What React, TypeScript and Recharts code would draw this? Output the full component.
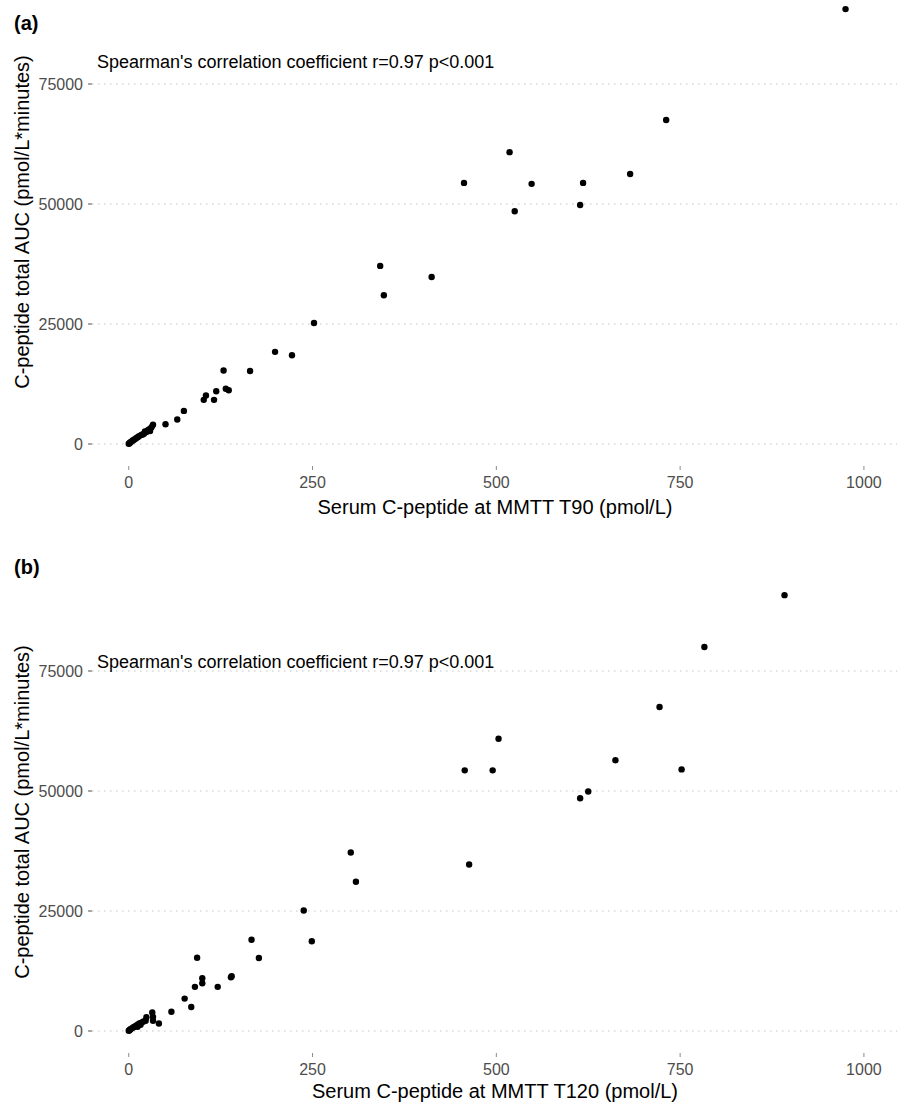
import React from "react";
import { ScatterChart, Scatter, XAxis, YAxis, CartesianGrid } from "recharts";

// Panel (a): serum C-peptide at MMTT T90 vs total AUC
const t90Values = [
  975, 731, 518, 548, 525, 618, 614, 682, 456, 342, 347, 412, 252, 199, 222, 165,
  129, 132, 136, 119, 105, 102, 116, 75, 66, 50, 33, 28,
  31, 26, 24, 21, 19, 17, 14, 12, 10, 8, 6, 5, 3, 2, 1, 0, 29, 22,
];
const aucA = [
  90600, 67500, 60800, 54200, 48500, 54400, 49800, 56250, 54400, 37100, 31000, 34800, 25200, 19200, 18500, 15200,
  15300, 11500, 11200, 11000, 10100, 9200, 9200, 6900, 5100, 4100, 4000, 3100,
  3500, 2900, 2500, 2200, 2000, 1900, 1600, 1400, 1200, 1000, 800, 700, 450, 300, 150, 50, 2700, 2600,
];

// Panel (b): serum C-peptide at MMTT T120 vs total AUC
const t120Values = [
  892, 783, 722, 503, 457, 495, 662, 752, 625, 614, 463, 302, 309, 238, 249, 167,
  177, 93, 100, 100, 90, 121, 139, 140, 76, 85, 58, 32, 33, 24, 23, 33, 41,
  20, 18, 15, 13, 11, 9, 7, 5, 3, 2, 1, 0, 16, 12,
];
const aucB = [
  90800, 80000, 67500, 60900, 54300, 54300, 56400, 54500, 49900, 48500, 34700, 37200, 31100, 25100, 18700, 19000,
  15200, 15250, 11000, 9950, 9200, 9200, 11200, 11400, 6750, 5000, 4000, 3850, 2950, 2850, 2150, 2150, 1550,
  2000, 1800, 1600, 1400, 1200, 1000, 850, 650, 450, 300, 150, 50, 1300, 900,
];

const xTicks = [0, 250, 500, 750, 1000];
const yTicks = [0, 25000, 50000, 75000];
const annotationText = "Spearman's correlation coefficient r=0.97 p<0.001";
const yTitle = "C-peptide total AUC (pmol/L*minutes)";
const xTitleA = "Serum C-peptide at MMTT T90 (pmol/L)";
const xTitleB = "Serum C-peptide at MMTT T120 (pmol/L)";

const FONT = "'Liberation Sans', Arial, Helvetica, sans-serif";

const zip = (xs: number[], ys: number[]) => xs.map((x, i) => ({ x, y: ys[i] }));
const dataA = zip(t90Values, aucA);
const dataB = zip(t120Values, aucB);

const Dot = (props: any) => {
  const { cx, cy } = props;
  if (cx == null || cy == null) return null;
  return <circle cx={cx} cy={cy} r={3.2} fill="#000" />;
};

const gridRows = (props: any) => {
  const axis = props && props.yAxis;
  const scale = axis && axis.scale;
  if (typeof scale === "function") {
    return yTicks.map((t) => scale(t));
  }
  if (scale && typeof scale.map === "function") {
    return yTicks.map((t) => scale.map(t));
  }
  return [];
};

type PanelProps = {
  data: { x: number; y: number }[];
  height: number;
  marginTop: number;
  yDomain: [number, number];
};

const Panel = ({ data, height, marginTop, yDomain }: PanelProps) => (
  <ScatterChart
    width={899}
    height={height}
    margin={{ top: marginTop, right: 2, bottom: 0, left: 0 }}
    style={{ fontFamily: FONT }}
  >
    <CartesianGrid
      vertical={false}
      stroke="#c4c4c4"
      strokeDasharray="1.5 4.5"
      strokeWidth={1.2}
      horizontalCoordinatesGenerator={gridRows}
    />
    <XAxis
      type="number"
      dataKey="x"
      domain={[-50, 1045]}
      ticks={xTicks}
      allowDataOverflow
      axisLine={false}
      tickLine={{ stroke: "#8a8a8a" }}
      tickSize={4}
      tickMargin={7}
      height={34}
      tick={{ fill: "#4d4d4d", fontSize: 16, fontFamily: FONT }}
    />
    <YAxis
      type="number"
      dataKey="y"
      domain={yDomain}
      ticks={yTicks}
      allowDataOverflow
      axisLine={false}
      tickLine={{ stroke: "#555" }}
      tickSize={4}
      tickMargin={5}
      width={92}
      tick={{ fill: "#4d4d4d", fontSize: 16, fontFamily: FONT }}
    />
    <Scatter data={data} shape={Dot} isAnimationActive={false} />
  </ScatterChart>
);

const abs = (style: React.CSSProperties): React.CSSProperties => ({
  position: "absolute",
  fontFamily: FONT,
  lineHeight: 1,
  whiteSpace: "nowrap",
  color: "#000",
  ...style,
});

export default function App() {
  return (
    <div
      style={{
        position: "absolute",
        left: 0,
        top: 0,
        width: 899,
        height: 1105,
        background: "#fff",
        overflow: "hidden",
      }}
    >
      <div style={{ position: "absolute", left: 0, top: 0 }}>
        <Panel data={dataA} height={500} marginTop={4} yDomain={[-4583, 91667]} />
      </div>
      <div style={{ position: "absolute", left: 0, top: 560 }}>
        <Panel data={dataB} height={527} marginTop={13} yDomain={[-4583, 95417]} />
      </div>

      <div style={abs({ left: 14, top: 23, fontSize: 20, fontWeight: "bold", transform: "translateY(-50%)" })}>(a)</div>
      <div style={abs({ left: 14, top: 567, fontSize: 20, fontWeight: "bold", transform: "translateY(-50%)" })}>(b)</div>

      <div style={abs({ left: 97, top: 62, fontSize: 18, transform: "translateY(-50%)" })}>{annotationText}</div>
      <div style={abs({ left: 97, top: 662, fontSize: 18, transform: "translateY(-50%)" })}>{annotationText}</div>

      <div style={abs({ left: 495, top: 507, fontSize: 20, color: "#000", transform: "translate(-50%, -50%)" })}>{xTitleA}</div>
      <div style={abs({ left: 495, top: 1091, fontSize: 20, color: "#000", transform: "translate(-50%, -50%)" })}>{xTitleB}</div>

      <div style={abs({ left: 22, top: 222, fontSize: 20, transform: "translate(-50%, -50%) rotate(-90deg)" })}>{yTitle}</div>
      <div style={abs({ left: 22, top: 812, fontSize: 20, transform: "translate(-50%, -50%) rotate(-90deg)" })}>{yTitle}</div>
    </div>
  );
}
